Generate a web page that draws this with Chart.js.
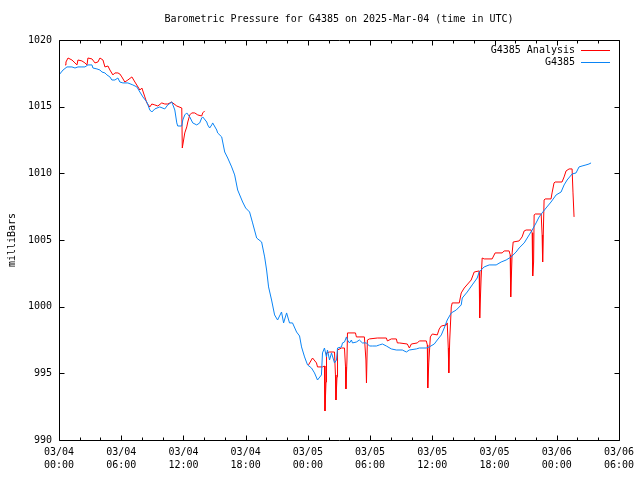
<!DOCTYPE html>
<html>
<head>
<meta charset="utf-8">
<script src="https://cdn.jsdelivr.net/npm/chart.js@4.4.1/dist/chart.umd.min.js"></script>
<style>
  html, body { margin: 0; padding: 0; background: #fff; }
  #wrap { width: 640px; height: 480px; }
</style>
</head>
<body>
<div id="wrap"><canvas id="chart" width="640" height="480"></canvas></div>
<script>
// hours since 03/04 00:00 UTC, pressure in millibars
const stationHours = [0.00,0.39,0.77,1.25,1.54,1.83,2.21,2.50,2.79,3.18,3.27,3.66,3.95,4.14,4.43,4.62,4.91,5.10,5.39,5.68,5.87,6.16,6.64,7.12,7.51,7.80,8.09,8.47,8.76,8.95,9.24,9.72,10.20,10.49,10.88,11.17,11.36,11.45,11.84,11.94,12.13,12.32,12.61,12.90,13.28,13.57,13.76,13.86,14.25,14.34,14.53,14.73,14.82,15.21,15.30,15.69,15.98,16.27,16.65,16.94,17.23,17.71,18.00,18.38,18.67,19.06,19.54,19.83,20.02,20.21,20.50,20.79,21.08,21.46,21.66,21.95,22.23,22.52,22.91,23.20,23.39,23.68,23.97,24.35,24.64,24.93,25.31,25.41,25.60,25.79,25.89,26.09,26.28,26.57,26.76,26.86,27.24,27.34,27.53,27.72,27.82,28.01,28.20,28.30,28.68,28.97,29.26,29.65,29.94,30.22,30.61,30.90,31.19,31.57,32.05,32.53,33.11,33.50,33.79,34.46,34.75,35.42,35.71,36.19,36.48,36.87,37.15,37.44,37.83,38.31,38.79,38.89,39.37,39.85,40.33,40.52,41.00,41.49,42.16,42.64,43.12,43.60,44.08,44.37,44.86,45.34,45.63,46.01,46.30,46.59,46.97,47.45,47.94,48.42,48.71,49.00,49.48,49.86,50.15,50.44,50.82,51.11,51.31];
const stationMb = [1017.38,1017.75,1017.98,1017.98,1017.90,1017.98,1017.98,1017.98,1018.13,1018.13,1017.90,1017.83,1017.75,1017.60,1017.53,1017.38,1017.23,1017.00,1017.00,1017.15,1016.85,1016.78,1016.78,1016.63,1016.48,1016.10,1015.73,1015.35,1014.75,1014.60,1014.83,1014.98,1014.83,1015.13,1015.35,1014.75,1013.78,1013.55,1013.55,1014.00,1014.38,1014.53,1014.23,1013.78,1013.63,1013.78,1014.15,1014.23,1013.85,1013.63,1013.40,1013.63,1013.78,1013.25,1013.03,1012.73,1011.60,1011.15,1010.48,1009.88,1008.75,1007.85,1007.40,1007.10,1006.28,1005.15,1004.85,1003.73,1002.75,1001.48,1000.50,999.38,999.00,999.60,998.78,999.53,998.78,998.78,998.10,997.80,996.98,996.23,995.63,995.40,995.03,994.50,994.88,996.53,996.90,996.23,996.75,996.00,996.53,995.78,996.00,996.90,996.98,997.28,997.35,997.73,997.50,997.28,997.50,997.28,997.35,997.50,997.28,997.28,997.05,997.05,997.05,997.13,997.20,997.05,996.83,996.75,996.75,996.60,996.75,996.83,996.90,996.90,996.98,997.20,997.50,997.88,998.40,999.00,999.53,999.75,1000.13,1000.65,1001.10,1001.63,1002.15,1002.60,1002.98,1003.13,1003.13,1003.35,1003.50,1003.73,1004.10,1004.40,1004.78,1005.38,1005.75,1006.28,1006.73,1007.03,1007.40,1007.85,1008.38,1008.60,1009.13,1009.50,1009.95,1010.03,1010.48,1010.55,1010.63,1010.70,1010.78];

// analysis has a gap between the two runs (null breaks the line)
const analysisHours = [0.58,0.67,0.87,1.25,1.54,1.73,1.83,2.21,2.50,2.70,2.79,3.18,3.47,3.75,3.95,4.24,4.43,4.72,4.91,5.20,5.39,5.68,5.87,6.06,6.35,6.64,7.03,7.32,7.80,7.99,8.28,8.47,8.76,8.95,9.24,9.53,9.91,10.20,10.49,10.88,10.97,11.36,11.84,11.89,12.13,12.32,12.42,12.61,12.80,13.09,13.38,13.76,13.86,14.05,
  19.00,
  24.06,24.45,24.83,24.93,25.41,25.60,25.65,25.75,25.80,26.09,26.57,26.66,26.71,26.81,26.86,27.24,27.53,27.63,27.67,27.77,27.82,28.59,28.68,29.45,29.60,29.65,29.74,29.94,30.70,31.57,31.67,32.05,32.53,32.63,32.82,33.59,33.79,33.98,34.56,34.75,35.42,35.52,35.56,35.66,35.81,36.00,36.48,36.67,36.87,37.35,37.44,37.54,37.59,37.68,37.83,37.92,38.60,38.79,39.08,39.75,40.04,40.52,40.57,40.71,40.81,41.00,41.77,42.06,42.74,42.93,43.41,43.51,43.56,43.70,43.80,44.37,44.66,44.86,45.05,45.53,45.63,45.68,45.77,45.82,45.92,46.50,46.59,46.64,46.78,46.88,47.45,47.55,47.74,47.84,48.51,48.71,48.90,49.19,49.48,49.57,49.67];
const analysisMb = [1018.13,1018.35,1018.65,1018.50,1018.28,1018.13,1018.50,1018.43,1018.28,1018.13,1018.65,1018.58,1018.28,1018.35,1018.65,1018.50,1017.98,1018.05,1017.75,1017.38,1017.53,1017.53,1017.45,1017.23,1016.85,1017.00,1017.23,1016.85,1016.25,1016.40,1015.73,1015.28,1014.98,1015.20,1015.13,1015.05,1015.28,1015.20,1015.20,1015.35,1015.28,1015.05,1014.90,1011.90,1013.03,1013.48,1013.85,1014.38,1014.53,1014.53,1014.38,1014.30,1014.53,1014.68,
  null,
  995.63,996.15,995.78,995.48,995.48,995.55,992.18,994.35,996.53,996.60,996.60,994.88,993.00,994.73,996.75,996.90,996.90,995.48,993.83,996.00,998.03,998.03,997.73,997.73,996.00,994.28,997.50,997.58,997.65,997.65,997.43,997.58,997.58,997.28,997.28,997.20,996.90,997.20,997.28,997.43,997.43,997.13,993.90,995.78,997.73,997.95,997.88,998.33,998.55,998.63,998.78,996.90,995.03,997.50,999.98,1000.28,1000.28,1001.03,1001.40,1002.00,1002.60,1002.68,999.15,1002.15,1003.65,1003.58,1003.58,1004.03,1004.03,1004.18,1004.18,1003.88,1000.73,1004.03,1004.85,1004.93,1005.23,1005.68,1005.75,1005.75,1005.53,1002.30,1003.35,1006.88,1006.95,1006.95,1005.38,1003.35,1008.00,1008.08,1008.08,1008.53,1009.28,1009.35,1009.35,1009.73,1010.18,1010.33,1010.33,1008.53,1006.73];

const titleText = "Barometric Pressure for G4385 on 2025-Mar-04 (time in UTC)";
const yTitle = "milliBars";
const seriesNames = ["G4385 Analysis", "G4385"];
const seriesColors = ["#ff0000", "#0a84f5"];

const FONT = "DejaVu Sans Mono";
Chart.defaults.font.family = FONT;
Chart.defaults.font.size = 10;
Chart.defaults.color = "#000";

function toPoints(xs, ys) {
  return xs.map((x, i) => ({ x: x, y: ys[i] }));
}

function hourLabel(v) {
  const day = 4 + Math.floor(v / 24);
  const hr = v % 24;
  return ["03/" + String(day).padStart(2, "0"), String(hr).padStart(2, "0") + ":00"];
}

// frame, inward ticks, title and key like the original plot
const framePlugin = {
  id: "frame",
  afterDraw(chart) {
    const ctx = chart.ctx;
    const a = chart.chartArea;
    const xs = chart.scales.x;
    const ys = chart.scales.y;
    const L = Math.round(a.left) + 0.5;
    const R = Math.round(a.right) + 0.5;
    const T = Math.round(a.top) + 0.5;
    const B = Math.round(a.bottom) + 0.5;

    ctx.save();
    ctx.strokeStyle = "#000";
    ctx.lineWidth = 1;
    ctx.beginPath();
    xs.ticks.forEach((t) => {
      const px = Math.round(xs.getPixelForValue(t.value)) + 0.5;
      const len = t.value % 6 === 0 ? 5 : 3;
      ctx.moveTo(px, B); ctx.lineTo(px, B - len);
      ctx.moveTo(px, T); ctx.lineTo(px, T + len);
    });
    ys.ticks.forEach((t) => {
      const py = Math.round(ys.getPixelForValue(t.value)) + 0.5;
      ctx.moveTo(L, py); ctx.lineTo(L + 5, py);
      ctx.moveTo(R, py); ctx.lineTo(R - 5, py);
    });
    ctx.rect(L, T, R - L, B - T);
    ctx.stroke();

    // title
    ctx.fillStyle = "#000";
    ctx.font = "10px '" + FONT + "'";
    ctx.textAlign = "center";
    ctx.textBaseline = "middle";
    ctx.fillText(titleText, (a.left + a.right) / 2, 19);

    // key
    ctx.textAlign = "right";
    seriesNames.forEach((name, i) => {
      const y = 50 + i * 12;
      ctx.fillStyle = "#000";
      ctx.fillText(name, 575, y);
      ctx.strokeStyle = seriesColors[i];
      ctx.beginPath();
      ctx.moveTo(581, y + 0.5);
      ctx.lineTo(610, y + 0.5);
      ctx.stroke();
    });
    ctx.restore();
  },
};

new Chart(document.getElementById("chart"), {
  type: "line",
  data: {
    datasets: [
      {
        label: seriesNames[0],
        data: toPoints(analysisHours, analysisMb),
        borderColor: seriesColors[0],
        borderWidth: 1,
        pointRadius: 0,
        tension: 0,
        spanGaps: false,
        order: 1,
      },
      {
        label: seriesNames[1],
        data: toPoints(stationHours, stationMb),
        borderColor: seriesColors[1],
        borderWidth: 1,
        pointRadius: 0,
        tension: 0,
        order: 0,
      },
    ],
  },
  options: {
    responsive: false,
    animation: false,
    devicePixelRatio: 1,
    layout: { padding: { top: 40, right: 20, left: 0, bottom: 0 } },
    plugins: {
      legend: { display: false },
      tooltip: { enabled: false },
    },
    scales: {
      x: {
        type: "linear",
        min: 0,
        max: 54,
        grid: { display: false, drawTicks: false },
        border: { display: false },
        ticks: {
          stepSize: 2,
          autoSkip: false,
          maxRotation: 0,
          padding: 6,
          font: { size: 10, lineHeight: 1.3 },
          callback: (v) => (v % 6 === 0 ? hourLabel(v) : ""),
        },
        afterFit: (scale) => { scale.height = 40; },
      },
      y: {
        min: 990,
        max: 1020,
        grid: { display: false, drawTicks: false },
        border: { display: false },
        ticks: { stepSize: 5, padding: 7, callback: (v) => String(v) },
        title: {
          display: true,
          text: yTitle,
          font: { size: 10, lineHeight: 1.2 },
          padding: { top: 6, bottom: 0 },
        },
        afterFit: (scale) => { scale.width = 59; },
      },
    },
  },
  plugins: [framePlugin],
});
</script>
</body>
</html>
